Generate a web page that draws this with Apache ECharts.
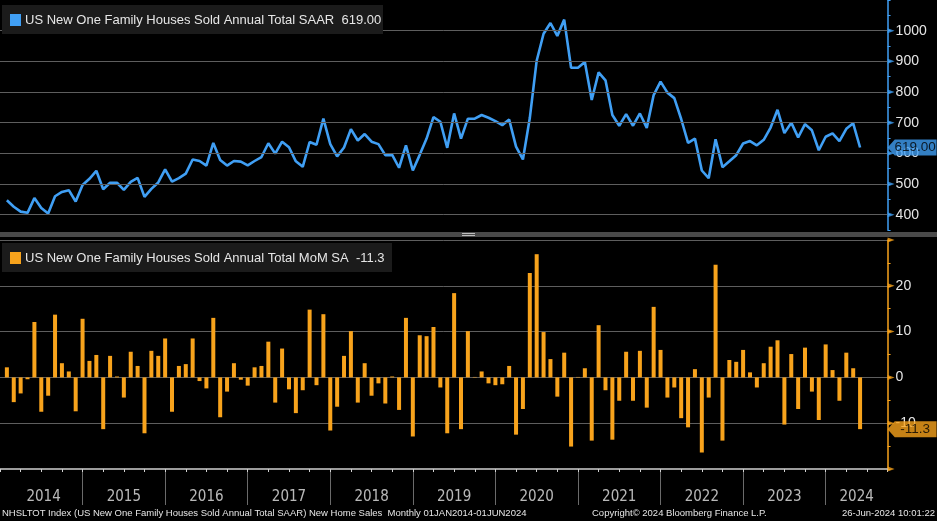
<!DOCTYPE html>
<html><head><meta charset="utf-8">
<script src="https://cdn.jsdelivr.net/npm/echarts@6/dist/echarts.min.js"></script>
<style>html,body{margin:0;padding:0;background:#000;overflow:hidden}#c{width:937px;height:521px}</style>
</head><body><div id="c"></div>
<script>
// ---- data (monthly, Jan 2014 .. May 2024) ----
const years = ['2014','2015','2016','2017','2018','2019','2020','2021','2022','2023','2024'];
const sales = [447,426,410,406,454,422,404,460,474,480,443,497,517,543,483,504,504,481,507,520,
  458,484,505,548,508,519,534,580,575,560,634,578,560,575,573,561,575,588,633,599,
  638,620,574,556,637,628,713,630,590,619,679,642,663,638,630,594,595,553,626,544,
  595,648,718,703,618,730,648,713,713,725,716,705,692,710,622,580,715,902,990,1025,
  983,1036,879,879,898,774,864,838,725,690,728,690,730,683,790,834,798,780,712,634,
  648,544,519,646,555,574,594,632,640,626,644,684,742,666,700,652,695,675,610,654,
  665,640,680,698,619];
const mom = [2.2,-5.4,-3.5,-0.4,12.1,-7.5,-4.0,13.7,3.1,1.3,
  -7.4,12.8,3.6,4.9,-11.3,4.7,0.2,-4.4,5.6,2.5,
  -12.2,5.8,4.7,8.5,-7.5,2.5,2.9,8.5,-0.8,-2.4,
  13.0,-8.7,-3.1,3.1,-0.5,-1.8,2.2,2.5,7.8,-5.5,
  6.3,-2.6,-7.8,-2.8,14.8,-1.7,13.8,-11.6,-6.4,4.7,
  10.1,-5.5,3.1,-4.0,-1.3,-5.7,0.2,-7.1,13.0,-12.9,
  9.2,9.0,11.0,-2.2,-12.2,18.4,-11.3,10.1,0.1,1.3,
  -1.3,-1.7,-1.5,2.5,-12.5,-6.9,22.8,26.9,9.9,4.0,
  -4.2,5.4,-15.1,0.1,2.0,-13.8,11.4,-2.8,-13.6,-5.1,
  5.6,-5.1,5.8,-6.6,15.4,6.0,-4.4,-2.2,-8.9,-10.9,
  1.8,-16.4,-4.4,24.6,-13.8,3.8,3.4,6.0,1.1,-2.2,
  3.1,6.7,8.1,-10.3,5.1,-6.9,6.5,-3.1,-9.3,7.2,
  1.6,-5.1,5.4,2.0,-11.3];
const salesTicks = [400,500,600,700,800,900,1000];
const momTicks = [-20,-10,0,10,20,30];
const momLabels = [-10,0,10,20];
const lastSales = '619.00';
const lastMom = '-11.3';
const title1 = 'US New One Family Houses Sold Annual Total SAAR  ' + lastSales;
const title2 = 'US New One Family Houses Sold Annual Total MoM SA  ' + lastMom;
const footL = 'NHSLTOT Index (US New One Family Houses Sold Annual Total SAAR) New Home Sales  Monthly 01JAN2014-01JUN2024';
const footM = 'Copyright\u00A9 2024 Bloomberg Finance L.P.';
const footR = '26-Jun-2024 10:01:22';

// ---- layout ----
const N = sales.length;
const X_MIN = 0, X_MAX = 129;          // months since 1-Jan-2014, points at month end
const PX = 6.917;
const GL = -4.7, GW = X_MAX * PX;
const visMin = -GL / PX;
const BLUE = '#409ff4', ORANGE = '#f8a31c', GRID = '#5e5e5e', TXT = '#e6e6e6';
const FONT = '"Liberation Sans", Arial, sans-serif';
const NARROW = '"Liberation Sans Narrow", "DejaVu Sans Condensed", "Liberation Sans", sans-serif';

const lineData = sales.map((v, i) => [i + 1, v]);
const barData = mom.map((v, i) => [i + 1, v]);
const yearPts = years.map((y, k) => {
  const a = Math.max(12 * k, visMin), b = Math.min(12 * k + 12, X_MAX);
  return [(a + b) / 2, 0.22, y];
});
const tagPath = 'path://M0,8 L7,0 L48,0 L48,16 L7,16 Z';
const labelFmt = list => v => list.includes(v) ? String(v) : '';

const chart = echarts.init(document.getElementById('c'), null, {width: 937, height: 521});
chart.setOption({
  backgroundColor: '#000',
  animation: false,
  textStyle: {fontFamily: FONT},
  grid: [
    {left: GL, top: -1, width: GW, height: 231},
    {left: GL, top: 240, width: GW, height: 229},
    {left: GL, top: 469, width: GW, height: 36}
  ],
  xAxis: [
    {gridIndex: 0, type: 'value', min: X_MIN, max: X_MAX, show: false},
    {gridIndex: 1, type: 'value', min: X_MIN, max: X_MAX, interval: 3,
      axisLine: {show: true, onZero: false, lineStyle: {color: '#d0d0d0', width: 1.5}},
      axisTick: {show: true, length: 3, lineStyle: {color: '#d0d0d0'}},
      axisLabel: {show: false}, splitLine: {show: false}},
    {gridIndex: 2, type: 'value', min: X_MIN, max: X_MAX, interval: 12,
      axisLine: {show: false}, axisTick: {show: false}, axisLabel: {show: false},
      splitLine: {show: true, showMinLine: false, showMaxLine: false, lineStyle: {color: '#6a6a6a', width: 1}}}
  ],
  yAxis: [
    {gridIndex: 0, type: 'value', position: 'right', min: 350, max: 1100, interval: 50,
      axisLine: {show: true, onZero: false, lineStyle: {color: BLUE, width: 1.5}},
      axisTick: {show: true, length: 3, lineStyle: {color: BLUE}},
      splitLine: {show: false},
      axisLabel: {color: TXT, fontSize: 14, margin: 8, formatter: labelFmt(salesTicks)}},
    {gridIndex: 1, type: 'value', position: 'right', min: -20, max: 30, interval: 10,
      axisLine: {show: true, onZero: false, lineStyle: {color: ORANGE, width: 1.5}},
      axisTick: {show: true, length: 3, lineStyle: {color: ORANGE}},
      minorTick: {show: true, splitNumber: 2, length: 3, lineStyle: {color: ORANGE}},
      splitLine: {show: true, showMinLine: false, lineStyle: {color: GRID, width: 1}},
      axisLabel: {color: TXT, fontSize: 14, margin: 8, formatter: labelFmt(momLabels)}},
    {gridIndex: 2, type: 'value', min: 0, max: 1, show: false}
  ],
  series: [
    {type: 'line', xAxisIndex: 0, yAxisIndex: 0, data: lineData, showSymbol: false, silent: true, z: 1,
      lineStyle: {opacity: 0},
      markLine: {silent: true, symbol: ['none', 'none'], label: {show: false},
        lineStyle: {color: GRID, width: 1, type: 'solid'},
        data: salesTicks.map(v => ({yAxis: v}))}},
    {type: 'line', xAxisIndex: 0, yAxisIndex: 0, data: lineData, showSymbol: false, z: 3,
      lineStyle: {color: BLUE, width: 2.6}},
    {type: 'bar', xAxisIndex: 1, yAxisIndex: 1, data: barData, barWidth: 4, z: 3,
      itemStyle: {color: ORANGE}},
    {type: 'scatter', xAxisIndex: 2, yAxisIndex: 2, data: yearPts, symbolSize: 1, silent: true,
      itemStyle: {color: 'rgba(0,0,0,0)'},
      label: {show: true, position: 'inside', formatter: p => p.data[2], color: TXT, fontSize: 15, fontFamily: NARROW}},
    {type: 'scatter', xAxisIndex: 0, yAxisIndex: 0, data: salesTicks.map(v => [X_MAX, v]), clip: false, silent: true,
      symbol: 'triangle', symbolSize: [5, 7], symbolRotate: -90, symbolOffset: [3.5, 0], itemStyle: {color: BLUE}, z: 5},
    {type: 'scatter', xAxisIndex: 1, yAxisIndex: 1, data: momTicks.map(v => [X_MAX, v]), clip: false, silent: true,
      symbol: 'triangle', symbolSize: [5, 7], symbolRotate: -90, symbolOffset: [3.5, 0], itemStyle: {color: ORANGE}, z: 5},
    {type: 'scatter', xAxisIndex: 0, yAxisIndex: 0, data: [[X_MAX, sales[N - 1]]], clip: false, silent: true,
      symbol: tagPath, symbolSize: [49, 16], symbolOffset: [24.5, 0], itemStyle: {color: BLUE}, z: 10,
      label: {show: true, position: 'inside', offset: [3, 0], formatter: lastSales, color: '#000', fontSize: 13.5}},
    {type: 'scatter', xAxisIndex: 1, yAxisIndex: 1, data: [[X_MAX, mom[N - 1]]], clip: false, silent: true,
      symbol: tagPath, symbolSize: [49, 16], symbolOffset: [24.5, 0], itemStyle: {color: ORANGE}, z: 10,
      label: {show: true, position: 'inside', offset: [3, 0], formatter: lastMom, color: '#000', fontSize: 13.5}}
  ],
  graphic: [
    {type: 'rect', z: 100, silent: true, shape: {x: 0, y: 232, width: 937, height: 5}, style: {fill: '#4a4a4a'}},
    {type: 'line', z: 101, silent: true, shape: {x1: 462, y1: 233.5, x2: 475, y2: 233.5}, style: {stroke: '#bdbdbd', lineWidth: 1}},
    {type: 'line', z: 101, silent: true, shape: {x1: 462, y1: 235.5, x2: 475, y2: 235.5}, style: {stroke: '#bdbdbd', lineWidth: 1}},
    {type: 'rect', z: 100, silent: true, shape: {x: 2, y: 5, width: 381, height: 29}, style: {fill: '#1b1b1b'}},
    {type: 'rect', z: 101, silent: true, shape: {x: 10, y: 14, width: 11, height: 12}, style: {fill: BLUE}},
    {type: 'text', z: 101, silent: true, x: 25, y: 20, style: {text: title1, fill: TXT, fontSize: 13, fontFamily: FONT, verticalAlign: 'middle'}},
    {type: 'rect', z: 100, silent: true, shape: {x: 2, y: 243, width: 390, height: 29}, style: {fill: '#1b1b1b'}},
    {type: 'rect', z: 101, silent: true, shape: {x: 10, y: 252, width: 11, height: 12}, style: {fill: ORANGE}},
    {type: 'text', z: 101, silent: true, x: 25, y: 258, style: {text: title2, fill: TXT, fontSize: 13, fontFamily: FONT, verticalAlign: 'middle'}},
    {type: 'text', z: 101, silent: true, x: 2, y: 513, style: {text: footL, fill: TXT, fontSize: 9.5, fontFamily: FONT, verticalAlign: 'middle'}},
    {type: 'text', z: 101, silent: true, x: 592, y: 513, style: {text: footM, fill: TXT, fontSize: 9.5, fontFamily: FONT, verticalAlign: 'middle'}},
    {type: 'text', z: 101, silent: true, x: 935, y: 513, style: {text: footR, fill: TXT, fontSize: 9.5, fontFamily: FONT, verticalAlign: 'middle', align: 'right'}}
  ]
});
</script></body></html>
